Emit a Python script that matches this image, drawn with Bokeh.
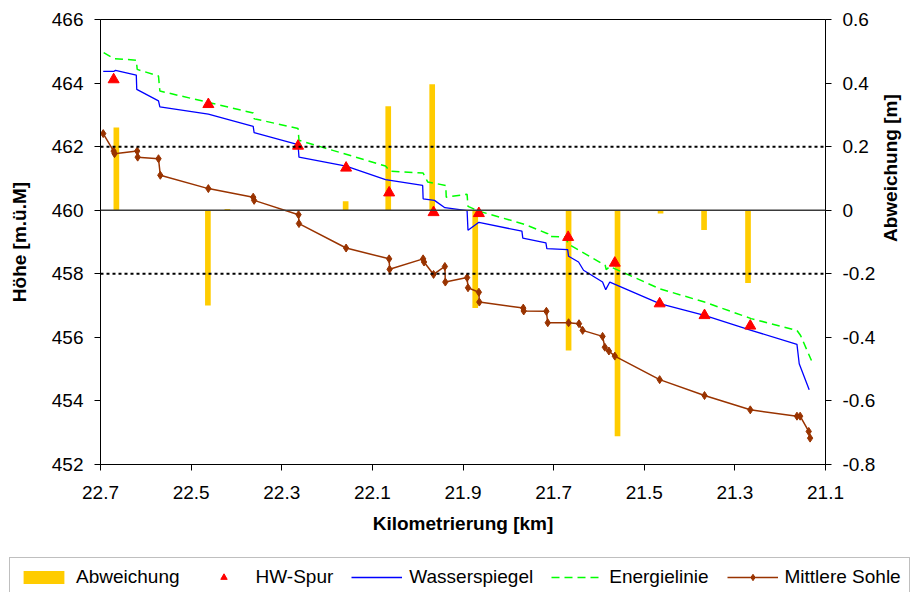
import math

from bokeh.plotting import figure
from bokeh.layouts import column
from bokeh.models import (Range1d, LinearAxis, FixedTicker, CustomJSTickFormatter,
                          Span, Legend, LegendItem)
from bokeh.embed import file_html
from bokeh.resources import INLINE

# --- Wasserspiegel (computed water surface) ---
ws_km = [22.694, 22.670, 22.667, 22.621, 22.620, 22.572, 22.569, 22.462, 22.363, 22.361,
         22.264, 22.262, 22.158, 22.071, 21.989, 21.988, 21.963, 21.940, 21.891, 21.889,
         21.865, 21.770, 21.768, 21.717, 21.715, 21.669, 21.667, 21.645, 21.634, 21.592,
         21.585, 21.576, 21.466, 21.367, 21.264, 21.163, 21.158, 21.136]
ws_h = [464.37, 464.37, 464.40, 464.25, 463.80, 463.44, 463.25, 463.02, 462.64, 462.44,
        462.06, 461.67, 461.39, 460.96, 460.78, 460.36, 460.31, 460.08, 459.99, 459.37,
        459.62, 459.34, 459.12, 458.97, 458.79, 458.76, 458.55, 458.37, 458.11, 457.74,
        457.50, 457.74, 457.06, 456.69, 456.22, 455.78, 455.17, 454.35]

# --- Energielinie (energy line) ---
el_km = [22.693, 22.671, 22.621, 22.619, 22.572, 22.569, 22.363, 22.361, 22.264, 22.262,
         22.071, 22.061, 21.988, 21.978, 21.938, 21.937, 21.891, 21.889, 21.865, 21.765,
         21.713, 21.712, 21.671, 21.669, 21.586, 21.584, 21.576, 21.466, 21.367, 21.264,
         21.163, 21.155, 21.131]
el_h = [464.96, 464.77, 464.72, 464.43, 464.22, 463.75, 463.06, 462.88, 462.57, 462.20,
        461.39, 461.23, 461.17, 460.89, 460.78, 460.41, 460.50, 460.12, 459.97, 459.56,
        459.26, 459.18, 459.15, 458.95, 458.26, 458.13, 458.23, 457.53, 457.11, 456.59,
        456.22, 456.06, 455.27]

# --- Mittlere Sohle (mean bed level) ---
so_km = [22.694, 22.671, 22.669, 22.619, 22.618, 22.572, 22.568, 22.462, 22.363, 22.361,
         22.263, 22.262, 22.158, 22.063, 22.062, 21.988, 21.986, 21.965, 21.940, 21.939,
         21.891, 21.889, 21.865, 21.864, 21.767, 21.766, 21.716, 21.713, 21.667, 21.644,
         21.636, 21.592, 21.587, 21.578, 21.565, 21.466, 21.367, 21.266, 21.163, 21.156,
         21.137, 21.134]
so_h = [462.41, 461.86, 461.78, 461.86, 461.67, 461.62, 461.10, 460.68, 460.41, 460.31,
        459.86, 459.58, 458.81, 458.47, 458.14, 458.47, 458.37, 457.98, 458.23, 457.74,
        457.88, 457.56, 457.42, 457.11, 456.92, 456.83, 456.82, 456.46, 456.46, 456.43,
        456.22, 456.03, 455.69, 455.57, 455.41, 454.67, 454.17, 453.72, 453.52, 453.52,
        453.04, 452.83]

# --- HW-Spur (observed flood marks) ---
hw_km = [22.671, 22.462, 22.264, 22.158, 22.063, 21.965, 21.865, 21.668, 21.565, 21.466,
         21.367, 21.266]
hw_h = [464.11, 463.33, 462.02, 461.33, 460.55, 459.93, 459.90, 459.15, 458.34, 457.06,
        456.69, 456.36]

# --- Abweichung (deviation, right axis) ---
ab_km = [22.665, 22.463, 22.420, 22.159, 22.065, 21.968, 21.873, 21.667, 21.559, 21.464,
         21.368, 21.271]
ab_m = [0.26, -0.30, 0.004, 0.028, 0.327, 0.396, -0.308, -0.441, -0.711, -0.01,
        -0.062, -0.229]

# --- axis ticks ---
x_ticks = [22.7, 22.5, 22.3, 22.1, 21.9, 21.7, 21.5, 21.3, 21.1]
x_tick_labels = ["22.7", "22.5", "22.3", "22.1", "21.9", "21.7", "21.5", "21.3", "21.1"]
left_ticks = [452, 454, 456, 458, 460, 462, 464, 466]
right_ticks = [-0.8, -0.6, -0.4, -0.2, 0.0, 0.2, 0.4, 0.6]
right_tick_labels = ["-0.8", "-0.6", "-0.4", "-0.2", "0", "0.2", "0.4", "0.6"]
ref_levels = [462, 458]

FONT = "Liberation Sans"
C_ABW, C_HW, C_WS, C_EL, C_SO = "#FFCC00", "#FF0000", "#0000FF", "#00FF00", "#993300"

lookup = """
const i = tick_vals.findIndex(t => Math.abs(t - tick) < 1e-9);
return i >= 0 ? tick_text[i] : "";
"""

p = figure(width=914, height=557, output_backend="svg", toolbar_location=None,
           x_range=Range1d(22.7, 21.1), y_range=Range1d(452, 466),
           min_border_left=100, min_border_right=86, min_border_top=19,
           min_border_bottom=93)
p.extra_y_ranges = {"abw": Range1d(-0.8, 0.6)}
p.xgrid.visible = False
p.ygrid.visible = False
p.outline_line_color = "black"
p.outline_line_width = 1
p.background_fill_color = "white"
p.border_fill_color = "white"

# bottom axis
xa = p.xaxis[0]
xa.ticker = FixedTicker(ticks=x_ticks)
xa.formatter = CustomJSTickFormatter(args=dict(tick_vals=x_ticks, tick_text=x_tick_labels),
                                     code=lookup)
xa.axis_label = "Kilometrierung [km]"

# left axis
ya = p.yaxis[0]
ya.ticker = FixedTicker(ticks=left_ticks)
ya.axis_label = "Höhe [m.ü.M]"

# right axis, title reading bottom-to-top like the left one
ra = LinearAxis(y_range_name="abw", axis_label="Abweichung [m]")
ra.ticker = FixedTicker(ticks=right_ticks)
ra.formatter = CustomJSTickFormatter(args=dict(tick_vals=right_ticks, tick_text=right_tick_labels),
                                     code=lookup)
ra.axis_label_orientation = math.pi / 2
p.add_layout(ra, "right")

for ax in (xa, ya, ra):
    ax.axis_line_color = "black"
    ax.axis_line_width = 1
    ax.major_tick_line_color = "black"
    ax.major_tick_out = 6
    ax.major_tick_in = 0
    ax.minor_tick_line_color = None
    ax.major_label_text_font = FONT
    ax.major_label_text_font_size = "19px"
    ax.major_label_text_color = "black"
    ax.axis_label_text_font = FONT
    ax.axis_label_text_font_size = "19px"
    ax.axis_label_text_font_style = "bold"
    ax.axis_label_text_color = "black"

xa.major_label_standoff = 15
xa.axis_label_standoff = 11
ya.major_label_standoff = 11
ya.axis_label_standoff = 19
ra.major_label_standoff = 11
ra.axis_label_standoff = 12


def draw_series(fig, bar_range=None):
    """Draw all five series on fig and return the renderers for the legend."""
    kw = {} if bar_range is None else dict(y_range_name=bar_range)
    r_abw = fig.vbar(x=ab_km, top=ab_m, bottom=0, width=0.0125,
                     fill_color=C_ABW, line_color=None, **kw)
    r_so = fig.line(so_km, so_h, line_color=C_SO, line_width=1.5)
    r_so_pt = fig.scatter(so_km, so_h, marker="diamond", size=8,
                          fill_color=C_SO, line_color=C_SO)
    r_ws = fig.line(ws_km, ws_h, line_color=C_WS, line_width=1.3)
    r_el = fig.line(el_km, el_h, line_color=C_EL, line_width=1.5, line_dash="8 5")
    r_hw = fig.scatter(hw_km, hw_h, marker="triangle", size=11,
                       fill_color=C_HW, line_color=C_HW)
    return r_abw, r_hw, r_ws, r_el, (r_so, r_so_pt)


# reference lines
for lvl in ref_levels:
    p.add_layout(Span(location=lvl, dimension="width", line_color="black",
                      line_width=2, line_dash="3 3"))
p.add_layout(Span(location=460, dimension="width", line_color="#3a3a3a", line_width=1.5))

draw_series(p, bar_range="abw")

# legend strip underneath the chart: the same series, kept outside its view,
# only supply the legend glyphs
lg = figure(width=914, height=35, output_backend="svg", toolbar_location=None,
            x_range=Range1d(0, 1), y_range=Range1d(0, 1),
            x_axis_location=None, y_axis_location=None,
            min_border=0, min_border_left=0, min_border_right=0,
            min_border_top=0, min_border_bottom=0, outline_line_color=None)
lg.frame_align = False
lg.xgrid.visible = False
lg.ygrid.visible = False
r_abw, r_hw, r_ws, r_el, r_so = draw_series(lg)

legend = Legend(items=[
    LegendItem(label="Abweichung", renderers=[r_abw]),
    LegendItem(label="HW-Spur", renderers=[r_hw]),
    LegendItem(label="Wasserspiegel", renderers=[r_ws]),
    LegendItem(label="Energielinie", renderers=[r_el]),
    LegendItem(label="Mittlere Sohle", renderers=list(r_so)),
], orientation="horizontal", location=(9, -5))
legend.label_text_font = FONT
legend.label_text_font_size = "19px"
legend.label_text_color = "black"
legend.glyph_width = 51
legend.glyph_height = 16
legend.label_standoff = 7
legend.spacing = 18
legend.padding = 8
legend.margin = 0
legend.border_line_color = "#808080"
legend.border_line_width = 1.5
legend.background_fill_color = "white"
legend.background_fill_alpha = 1.0
lg.add_layout(legend, "center")

page = column(p, lg, spacing=0)
open("out.html", "w").write(file_html(page, INLINE))
